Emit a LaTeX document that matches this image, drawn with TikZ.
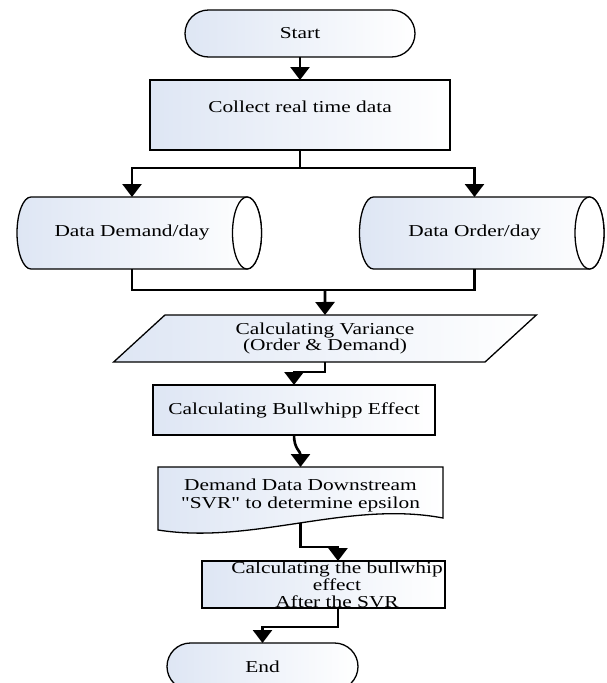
\documentclass[tikz,border=0pt]{standalone}
\usepackage{fontspec}
\setmainfont{Liberation Serif}[FakeStretch=1.28,Ligatures=TeXOff]
\usetikzlibrary{positioning,shapes.geometric,arrows.meta,backgrounds}
\definecolor{fillblue}{RGB}{222,230,244}

\begin{document}
\begin{tikzpicture}[x=1pt,y=-1pt,
  txt/.style={align=center,outer sep=0pt,font=\fontsize{16.7}{17}\selectfont},
  box/.style={txt,draw,line width=1.3pt,left color=fillblue,right color=white},
  term/.style={box,rounded corners=23.5pt,minimum width=#1,minimum height=47pt},
  flow/.style={line width=2.6pt,-{Triangle[width=19pt,length=13pt]}},
  link/.style={line width=2.6pt}]
\useasboundingbox (0,0) rectangle (606,683);
%\draw[thin,gray] (0,0) rectangle (606,683);
\draw(300,33.5) node[term=230pt](Start){Start};
\node[box,below=23pt of Start,minimum width=300pt,minimum height=70pt](Collect){};
\node[txt](CollectText) at (300,107){Collect real time data};
\node[txt,minimum width=230pt,minimum height=72pt](Demand) at (132,233){Data Demand/day};
\node[txt,minimum width=230pt,minimum height=72pt](Order) at (474.5,233){Data Order/day};
\node[box,trapezium,trapezium left angle=52,trapezium right angle=128,trapezium stretches=true,minimum width=424pt,minimum height=47pt,font=\fontsize{16.7}{15}\selectfont](Var) at (325,338.5){Calculating Variance\\(Order \& Demand)};
\node[box,minimum width=282pt,minimum height=50pt](Bull) at (294,410){Calculating Bullwhipp Effect};
\node[txt,minimum width=285pt,minimum height=56pt,font=\fontsize{16.7}{18}\selectfont](SVR) at (300.5,495){Demand Data Downstream\\"SVR" to determine epsilon};
\node[box,minimum width=243pt,minimum height=47pt](After) at (323.5,584.5){};
\node[txt](AfterText) at (337,585){Calculating the bullwhip\\effect\\After the SVR};
\node[term=191pt](End) at (262.5,666.5){End};

\begin{scope}[on background layer]
\foreach \c in {Demand,Order}{
  \path[box] ([xshift=14pt]\c.north west) -- (\c.north east) arc[start angle=90,end angle=-90,x radius=14.5pt,y radius=36pt] -- ([xshift=14pt]\c.south west) arc[start angle=270,end angle=90,x radius=14pt,y radius=36pt] -- cycle;
  \draw[line width=1.3pt,fill=white] (\c.east) ellipse [x radius=14.5pt,y radius=36pt];
}
\path[box] ([yshift=-7pt]SVR.south west) -- (SVR.north west) -- (SVR.north east) -- ([yshift=5pt]SVR.south east) .. controls +(-95,-18) and +(95,15) .. ([yshift=-7pt]SVR.south west) -- cycle;
\end{scope}

\coordinate(Split) at (300,168);
\coordinate(Merge) at (325,290);
\draw [flow] (Start.south) to (Collect.north);
\draw [link] (Collect.south) to (Split);
\draw [flow] (Split) -| (Demand.north);
\draw [flow] (Split) -| (Order.north);
\draw [link] (Demand.south) |- (Merge) -| (Order.south);
\draw [flow] (Merge) to (Var.north);
\draw [flow] (Var.south) -- ++(0,10) -| (Bull.north);
\draw [flow] (Bull.south) .. controls +(0,14) and +(0,-16) .. (SVR.north);
\draw [flow] (SVR.south) -- ++(0,24) -| ([xshift=14.5pt]After.north);
\draw [flow] ([xshift=14.5pt]After.south) -- ++(0,19) -| (End.north);
\end{tikzpicture}
\end{document}
